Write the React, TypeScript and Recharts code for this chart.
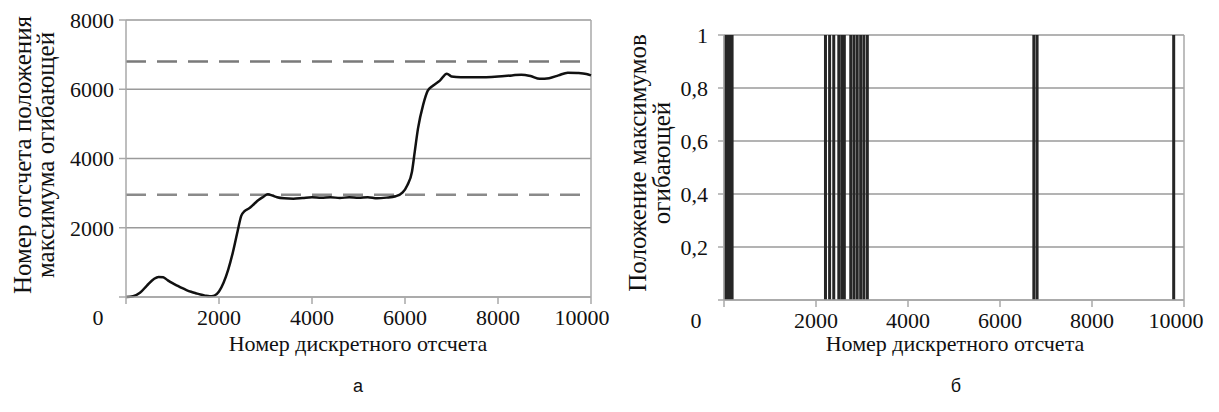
import React from "react"
import {
  Bar,
  BarChart,
  CartesianGrid,
  Line,
  LineChart,
  ReferenceLine,
  XAxis,
  YAxis,
} from "recharts"

// (а) position of the envelope maximum vs sample number
const SAMPLE_X = [
  0, 150, 300, 450, 600, 700, 800, 900, 1000, 1100, 1200, 1300, 1400, 1500,
  1600, 1700, 1800, 1900, 2000, 2100, 2200, 2300, 2400, 2480, 2550, 2650, 2750,
  2850, 2950, 3050, 3150, 3250, 3400, 3600, 3800, 4000, 4200, 4400, 4600, 4800,
  5000, 5200, 5400, 5600, 5800, 5950, 6050, 6150, 6210, 6280, 6390, 6490, 6600,
  6750, 6900, 7000, 7200, 7400, 7700, 8000, 8300, 8500, 8700, 8900, 9100, 9300,
  9500, 9700, 9900, 10000,
]
const MAX_POS = [
  0, 20, 120, 330, 520, 580, 570, 480, 400, 330, 260, 200, 150, 110, 70, 40,
  20, 40, 160, 420, 800, 1300, 1900, 2350, 2480, 2560, 2680, 2800, 2890, 2970,
  2930, 2880, 2850, 2840, 2860, 2880, 2870, 2880, 2860, 2880, 2870, 2880, 2850,
  2870, 2910, 3020, 3230, 3620, 4200, 4870, 5550, 5960, 6100, 6250, 6450, 6370,
  6350, 6350, 6350, 6370, 6400, 6420, 6380, 6300, 6320, 6400, 6480, 6470, 6440,
  6400,
]
const UPPER_LIMIT = 6800
const LOWER_LIMIT = 2950
const LEFT_Y_TICKS = [0, 2000, 4000, 6000, 8000]

// (б) positions of the envelope maxima
const PEAK_X = [
  30, 70, 110, 150, 180, 2210, 2300, 2390, 2500, 2565, 2620, 2760, 2830, 2900,
  2975, 3045, 3120, 6740, 6810, 9780,
]
const RIGHT_Y_TICKS = [0, 0.2, 0.4, 0.6, 0.8, 1]

const X_TICKS = [0, 2000, 4000, 6000, 8000, 10000]
const X_MAX = 10000

const serif = "Liberation Serif, Times New Roman, serif"
const gridColor = "#9a9a9a"
const axisColor = "#a8a8a8"

const lineData = SAMPLE_X.map((x, i) => ({ x, y: MAX_POS[i] }))
const peakData = PEAK_X.map((x) => ({ x, v: 1 }))

function XTick({ x, y, payload }: any) {
  const v = payload.value as number
  const dx = v === 0 ? -28 : v === X_MAX ? -8 : 0
  return (
    <text
      x={x + dx}
      y={y}
      dy="0.71em"
      textAnchor="middle"
      fontFamily={serif}
      fontSize={22}
      fill="#111"
    >
      {v}
    </text>
  )
}

function YTick({ x, y, payload, comma }: any) {
  const v = payload.value as number
  if (v === 0) return <g />
  const label = comma ? String(v).replace(".", ",") : String(v)
  return (
    <text
      x={x}
      y={y}
      dy="0.355em"
      textAnchor="end"
      fontFamily={serif}
      fontSize={22}
      fill="#111"
    >
      {label}
    </text>
  )
}

// vertical stroke centred on the bar's x position
function PeakMark({ x, y, width, height }: any) {
  const cx = x + width / 2
  return <rect x={cx - 1.5} y={y} width={3} height={height} fill="#262626" />
}

export default function App() {
  return (
    <div
      style={{
        position: "absolute",
        left: 0,
        top: 0,
        width: 1219,
        height: 412,
        background: "#fff",
        overflow: "hidden",
      }}
    >
      <div style={{ position: "absolute", left: 0, top: 0 }}>
        <LineChart
          width={610}
          height={345}
          data={lineData}
          margin={{ top: 20, right: 19, bottom: 0, left: 0 }}
        >
          <CartesianGrid
            vertical={false}
            stroke={gridColor}
            strokeWidth={1.5}
          />
          <XAxis
            dataKey="x"
            type="number"
            domain={[0, X_MAX]}
            ticks={X_TICKS}
            height={48}
            stroke={axisColor}
            strokeWidth={1.5}
            tickSize={7}
            tickMargin={5}
            tick={<XTick />}
          />
          <YAxis
            type="number"
            domain={[0, 8000]}
            ticks={LEFT_Y_TICKS}
            width={126}
            stroke={axisColor}
            strokeWidth={1.5}
            tickSize={7}
            tickMargin={5}
            tick={<YTick />}
          />
          <ReferenceLine x={X_MAX} stroke={axisColor} strokeWidth={1.5} />
          <ReferenceLine
            y={UPPER_LIMIT}
            stroke="#7a7a7a"
            strokeWidth={2.5}
            strokeDasharray="20 11"
          />
          <ReferenceLine
            y={LOWER_LIMIT}
            stroke="#8a8a8a"
            strokeWidth={2.5}
            strokeDasharray="20 11"
          />
          <Line
            type="monotone"
            dataKey="y"
            stroke="#111"
            strokeWidth={2.5}
            dot={false}
            isAnimationActive={false}
          />
        </LineChart>
      </div>

      <div style={{ position: "absolute", left: 610, top: 0 }}>
        <BarChart
          width={609}
          height={345}
          data={peakData}
          margin={{ top: 35, right: 35, bottom: 0, left: 0 }}
        >
          <CartesianGrid
            vertical={false}
            stroke={gridColor}
            strokeWidth={1.5}
          />
          <XAxis
            dataKey="x"
            type="number"
            domain={[0, X_MAX]}
            ticks={X_TICKS}
            height={45}
            stroke={axisColor}
            strokeWidth={1.5}
            tickSize={7}
            tickMargin={5}
            tick={<XTick />}
          />
          <YAxis
            type="number"
            domain={[0, 1]}
            ticks={RIGHT_Y_TICKS}
            width={114}
            stroke={axisColor}
            strokeWidth={1.5}
            tickSize={6}
            tickMargin={10}
            tick={<YTick comma />}
          />
          <ReferenceLine x={X_MAX} stroke={axisColor} strokeWidth={1.5} />
          <Bar
            dataKey="v"
            barSize={1}
            shape={<PeakMark />}
            isAnimationActive={false}
          />
        </BarChart>
      </div>

      <svg
        width={1219}
        height={412}
        style={{ position: "absolute", left: 0, top: 0, pointerEvents: "none" }}
      >
        <g fontFamily={serif} fill="#111" textAnchor="middle">
          <text
            x={22}
            y={155}
            fontSize={25}
            dominantBaseline="central"
            transform="rotate(-90 22 155)"
          >
            Номер отсчета положения
          </text>
          <text
            x={45}
            y={155}
            fontSize={25}
            dominantBaseline="central"
            transform="rotate(-90 45 155)"
          >
            максимума огибающей
          </text>
          <text x={358} y={343} fontSize={22} dominantBaseline="central">
            Номер дискретного отсчета
          </text>
          <text
            x={637}
            y={163}
            fontSize={25}
            dominantBaseline="central"
            transform="rotate(-90 637 163)"
          >
            Положение максимумов
          </text>
          <text
            x={661}
            y={163}
            fontSize={25}
            dominantBaseline="central"
            transform="rotate(-90 661 163)"
          >
            огибающей
          </text>
          <text x={955} y={343} fontSize={22} dominantBaseline="central">
            Номер дискретного отсчета
          </text>
        </g>
        <g
          fontFamily="Liberation Sans, Arial, sans-serif"
          fontSize={18}
          fill="#111"
          textAnchor="middle"
        >
          <text x={358} y={386} dominantBaseline="central">
            а
          </text>
          <text x={956} y={386} dominantBaseline="central">
            б
          </text>
        </g>
      </svg>
    </div>
  )
}
